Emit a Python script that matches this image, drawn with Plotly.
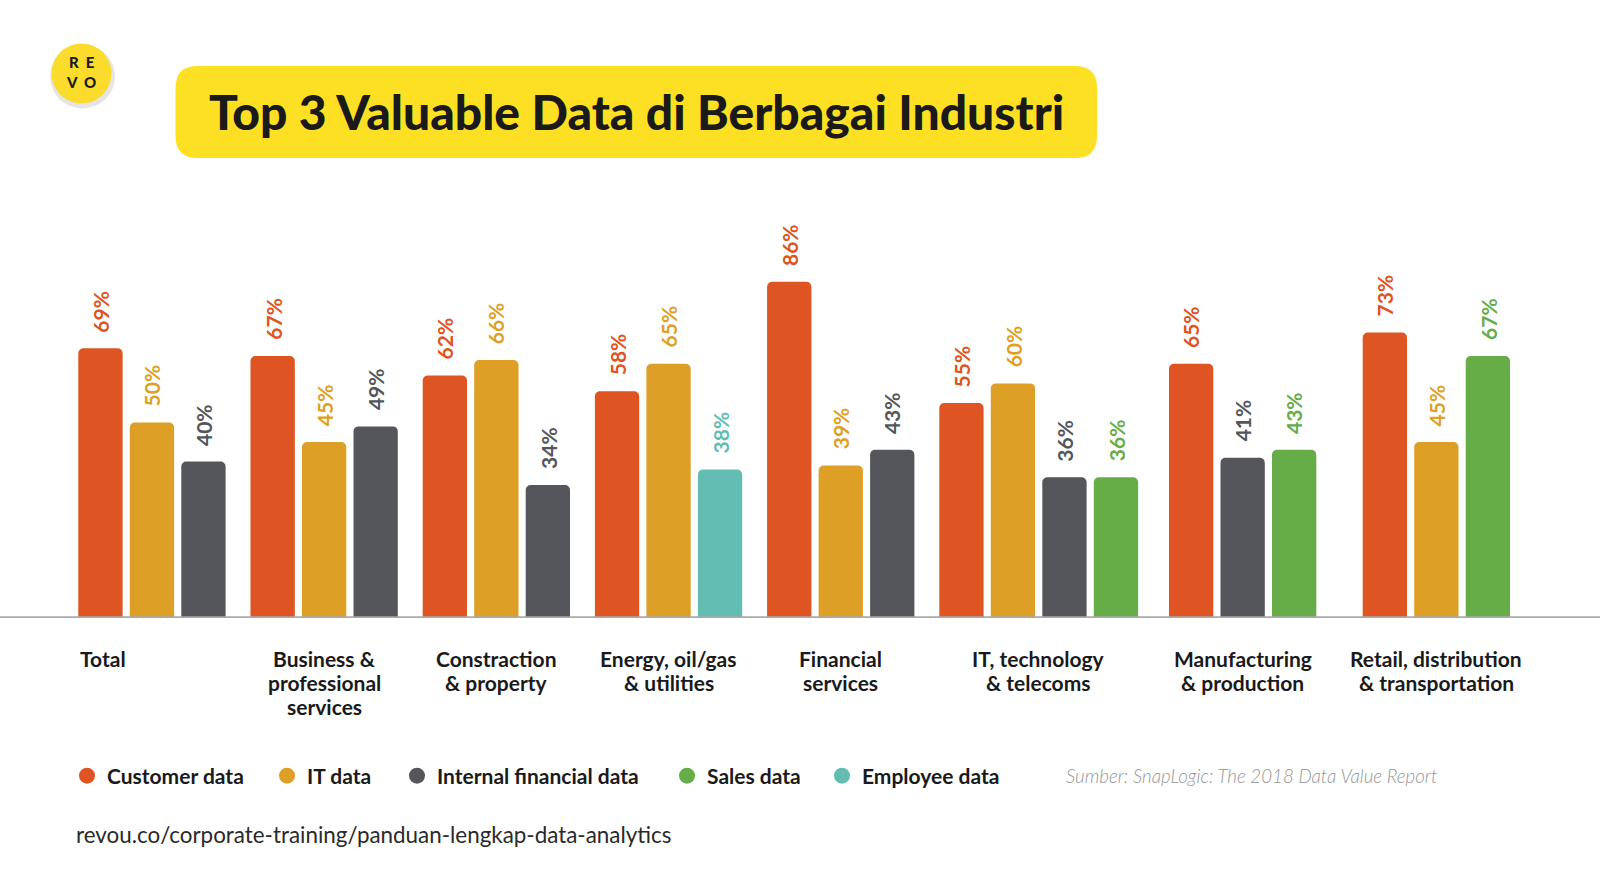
import plotly.graph_objects as go

# ---------------- data ----------------
categories = ["Total", "Business &<br>professional<br>services", "Constraction<br>& property",
              "Energy, oil/gas<br>& utilities", "Financial<br>services", "IT, technology<br>& telecoms",
              "Manufacturing<br>& production", "Retail, distribution<br>& transportation"]
series_names = ["Customer data", "IT data", "Internal financial data", "Sales data", "Employee data"]
customer_data = [69, 67, 62, 58, 86, 55, 65, 73]
it_data = [50, 45, 66, 65, 39, 60, None, 45]
internal_financial_data = [40, 49, 34, None, 43, 36, 41, None]
sales_data = [None, None, None, None, None, 36, 43, 67]
employee_data = [None, None, None, 38, None, None, None, None]

# ---------------- style / layout ----------------
colors = ["#DE5422", "#DE9F26", "#54565B", "#66AD48", "#63BDB3"]
legend_widths = [155, 85, 225, 110, 150]
series_values = [customer_data, it_data, internal_financial_data, sales_data, employee_data]
W, H = 1600, 885
T, B = 227, 267          # plot area: baseline at 618px
FIRST = 100.45           # first bar centre (px units on x axis)
PITCH = 51.5
BAR_W = 44.3
GROUP_GAPS = [69.2, 69.2, 69.2, 69.2, 69.2, 75.2, 90.7]
LINE_H = 24
FONT = "Lato"

# compute packed bar positions per group
xs = [[None] * len(categories) for _ in series_names]
group_left, group_center = [], []
pos = FIRST
for g in range(len(categories)):
    members = []
    for s in range(len(series_names)):
        if series_values[s][g] is not None:
            xs[s][g] = pos
            members.append(pos)
            pos += PITCH
    pos -= PITCH
    group_left.append(members[0] - BAR_W / 2)
    group_center.append((members[0] + members[-1]) / 2)
    if g < len(GROUP_GAPS):
        pos += GROUP_GAPS[g]

fig = go.Figure()
annotations = []
for s, name in enumerate(series_names):
    px = [xs[s][g] for g in range(len(categories)) if series_values[s][g] is not None]
    py = [series_values[s][g] for g in range(len(categories)) if series_values[s][g] is not None]
    fig.add_trace(go.Bar(x=px, y=py, width=BAR_W, marker=dict(color=colors[s], line=dict(width=0)),
                         name=name, showlegend=False, hoverinfo="skip"))
    for xv, yv in zip(px, py):
        annotations.append(dict(x=xv, y=yv, xref="x", yref="y", text=f"{yv}%", showarrow=False,
                                textangle=-90, yanchor="bottom", xanchor="center", yshift=14,
                                font=dict(family=FONT, size=21, color=colors[s], weight=700)))
    # legend entry with circle marker
    fig.add_trace(go.Scatter(x=[None], y=[None], mode="markers", name=name,
                             legendwidth=legend_widths[s],
                             marker=dict(symbol="circle", size=18, color=colors[s])))

# category labels (one annotation per line for tight line spacing)
for g, cat in enumerate(categories):
    for li, line in enumerate(cat.split("<br>")):
        if g == 0:
            xv, xa = group_left[g], "left"
        else:
            xv, xa = group_center[g], "center"
        annotations.append(dict(x=xv, y=0, xref="x", yref="y", text=line, showarrow=False,
                                xanchor=xa, yanchor="middle", yshift=-40 - LINE_H * li,
                                font=dict(family=FONT, size=21, color="#1a1a1a", weight=700)))

ph = H - T - B
def py_paper(pix):
    return (H - B - pix) / ph

# title
annotations.append(dict(x=636.5, y=py_paper(111), xref="x", yref="paper",
                        text="Top 3 Valuable Data di Berbagai Industri", showarrow=False,
                        xanchor="center", yanchor="middle",
                        font=dict(family=FONT, size=48, color="#1a1a1a", weight=900)))
# logo letters
annotations.append(dict(x=81, y=py_paper(72), xref="x", yref="paper", text="R  E<br>V  O",
                        showarrow=False, xanchor="center", yanchor="middle",
                        font=dict(family=FONT, size=15, color="#1a1a1a", weight=900)))
# source
annotations.append(dict(x=1064, y=py_paper(776), xref="x", yref="paper",
                        text="<i>Sumber: SnapLogic: The 2018 Data Value Report</i>", showarrow=False,
                        xanchor="left", yanchor="middle",
                        font=dict(family=FONT, size=18.7, color="#959595", weight=300)))
# url
annotations.append(dict(x=74, y=py_paper(834), xref="x", yref="paper",
                        text="revou.co/corporate-training/panduan-lengkap-data-analytics", showarrow=False,
                        xanchor="left", yanchor="middle",
                        font=dict(family=FONT, size=22.4, color="#2a2a2a", weight=400)))

def rounded_rect(x0, y0, x1, y1, r):
    # pixel coords relative to anchor, y up
    return (f"M{x0+r},{y0} L{x1-r},{y0} Q{x1},{y0} {x1},{y0+r} L{x1},{y1-r} Q{x1},{y1} {x1-r},{y1} "
            f"L{x0+r},{y1} Q{x0},{y1} {x0},{y1-r} L{x0},{y0+r} Q{x0},{y0} {x0+r},{y0} Z")

top_px = T  # yanchor paper=1 sits at pixel row T
shapes = [
    # title box
    dict(type="path", xref="x", yref="paper", xsizemode="pixel", ysizemode="pixel", xanchor=0, yanchor=1,
         path=rounded_rect(175.5, top_px - 158, 1097, top_px - 66, 22),
         fillcolor="#FDE024", line=dict(width=0), layer="below"),
    # logo shadow
    dict(type="circle", xref="x", yref="paper", xsizemode="pixel", ysizemode="pixel", xanchor=0, yanchor=1,
         x0=50, x1=115, y0=top_px - 73.5 - 35, y1=top_px - 73.5 + 29,
         fillcolor="rgba(0,0,0,0.10)", line=dict(width=0), layer="below"),
    # logo
    dict(type="circle", xref="x", yref="paper", xsizemode="pixel", ysizemode="pixel", xanchor=0, yanchor=1,
         x0=51.5, x1=111.5, y0=top_px - 73.5 - 30, y1=top_px - 73.5 + 30,
         fillcolor="#FBDC2C", line=dict(width=0), layer="below"),
    # baseline
    dict(type="line", xref="paper", yref="y", x0=0, x1=1, y0=0, y1=0,
         line=dict(color="#AAAAAA", width=3.5), layer="above"),
]

fig.update_layout(
    width=W, height=H, margin=dict(l=0, r=0, t=T, b=B),
    paper_bgcolor="white", plot_bgcolor="white",
    barcornerradius=5,
    xaxis=dict(range=[0, W], visible=False, fixedrange=True),
    yaxis=dict(range=[0, 100], visible=False, fixedrange=True),
    showlegend=True,
    legend=dict(orientation="h", x=67 / W, xanchor="left", y=py_paper(776), yanchor="middle",
                font=dict(family=FONT, size=21, color="#1a1a1a", weight=700),
                itemwidth=30, bgcolor="rgba(0,0,0,0)", tracegroupgap=0),
    annotations=annotations, shapes=shapes,
)
fig.write_html("out.html")
